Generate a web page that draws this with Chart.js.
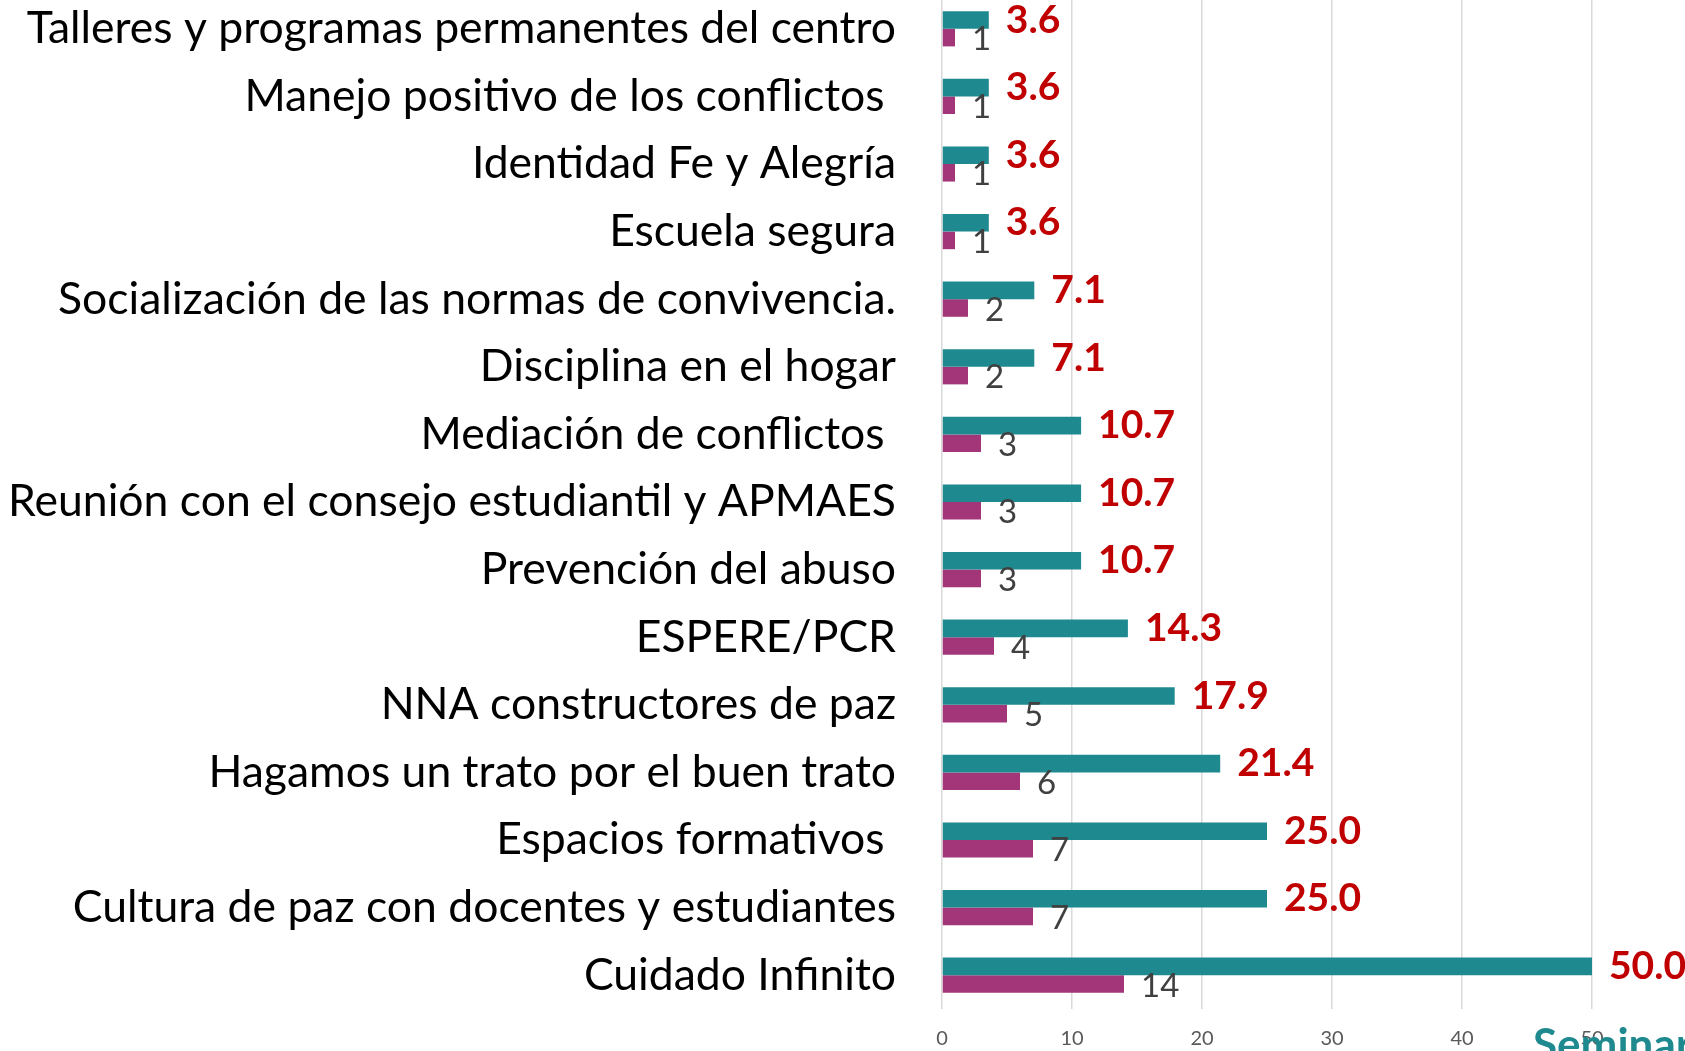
<!DOCTYPE html>
<html>
<head>
<meta charset="utf-8">
<script src="https://cdn.jsdelivr.net/npm/chart.js@4.4.1/dist/chart.umd.min.js"></script>
<style>
  html, body { margin: 0; padding: 0; background: #fff; overflow: hidden; }
  #wrap { width: 1685px; height: 1056px; margin-top: -5px; }
</style>
</head>
<body>
<div id="wrap"><canvas id="chart"></canvas></div>
<script>
const categories = [
    'Talleres y programas permanentes del centro',
    'Manejo positivo de los conflictos ',
    'Identidad Fe y Alegría',
    'Escuela segura',
    'Socialización de las normas de convivencia.',
    'Disciplina en el hogar',
    'Mediación de conflictos ',
    'Reunión con el consejo estudiantil y APMAES',
    'Prevención del abuso',
    'ESPERE/PCR',
    'NNA constructores de paz',
    'Hagamos un trato por el buen trato',
    'Espacios formativos ',
    'Cultura de paz con docentes y estudiantes',
    'Cuidado Infinito'
];
const percentValues = [3.6, 3.6, 3.6, 3.6, 7.1, 7.1, 10.7, 10.7, 10.7, 14.3, 17.9, 21.4, 25.0, 25.0, 50.0];
const countValues = [1, 1, 1, 1, 2, 2, 3, 3, 3, 4, 5, 6, 7, 7, 14];
const xTicks = [0, 10, 20, 30, 40, 50];
const bottomCaption = 'Seminarios';

const FONT = 'Lato, Carlito, Calibri, sans-serif';

// draws the value labels next to the bar ends
const barLabels = {
    id: 'barLabels',
    afterDatasetsDraw(chart) {
        const ctx = chart.ctx;
        chart.data.datasets.forEach((ds, i) => {
            const meta = chart.getDatasetMeta(i);
            ctx.save();
            ctx.font = ds.labelFont;
            ctx.fillStyle = ds.labelColor;
            ctx.textAlign = 'left';
            ctx.textBaseline = 'middle';
            meta.data.forEach((bar, j) => {
                const v = ds.data[j];
                const txt = ds.labelDecimals ? v.toFixed(ds.labelDecimals) : String(v);
                ctx.fillText(txt, bar.x + 17, bar.y + ds.labelShift);
            });
            ctx.restore();
        });
    }
};

// partly visible caption in the bottom right corner
const caption = {
    id: 'caption',
    afterDraw(chart) {
        const ctx = chart.ctx;
        ctx.save();
        ctx.font = 'bold 44px ' + FONT;
        ctx.fillStyle = '#1E8A8F';
        ctx.textBaseline = 'alphabetic';
        ctx.fillText(bottomCaption, 1533, 1065);
        ctx.restore();
    }
};

const ctx = document.getElementById('chart').getContext('2d');
new Chart(ctx, {
    type: 'bar',
    data: {
        labels: categories,
        datasets: [{
            label: '%',
            data: percentValues,
            backgroundColor: '#1E8A8F',
            categoryPercentage: 0.52,
            barPercentage: 1.0,
            labelFont: 'bold 39px ' + FONT,
            labelColor: '#C00000',
            labelDecimals: 1,
            labelShift: 0
        }, {
            label: 'N',
            data: countValues,
            backgroundColor: '#A33679',
            categoryPercentage: 0.52,
            barPercentage: 1.0,
            labelFont: '33px ' + FONT,
            labelColor: '#404040',
            labelDecimals: 0,
            labelShift: 2
        }]
    },
    options: {
        indexAxis: 'y',
        responsive: true,
        maintainAspectRatio: false,
        animation: false,
        layout: { padding: { top: 0, right: 93, left: 0, bottom: 0 } },
        plugins: {
            legend: { display: false },
            tooltip: { enabled: false }
        },
        scales: {
            x: {
                min: 0,
                max: 50,
                afterBuildTicks(axis) { axis.ticks = xTicks.map(v => ({ value: v })); },
                afterFit(axis) { axis.height = 42; axis.paddingLeft = 0; axis.paddingRight = 0; },
                grid: { color: '#D9D9D9', lineWidth: 1.5, drawTicks: false },
                border: { display: false },
                ticks: { color: '#595959', font: { family: FONT, size: 20 }, padding: 18 }
            },
            y: {
                afterFit(axis) { axis.width = 942; axis.paddingTop = 0; axis.paddingBottom = 0; },
                grid: { display: false },
                border: { display: false },
                ticks: { color: '#000', font: { family: FONT, size: 44.5 }, padding: 38, autoSkip: false }
            }
        }
    },
    plugins: [barLabels, caption]
});
</script>
</body>
</html>
